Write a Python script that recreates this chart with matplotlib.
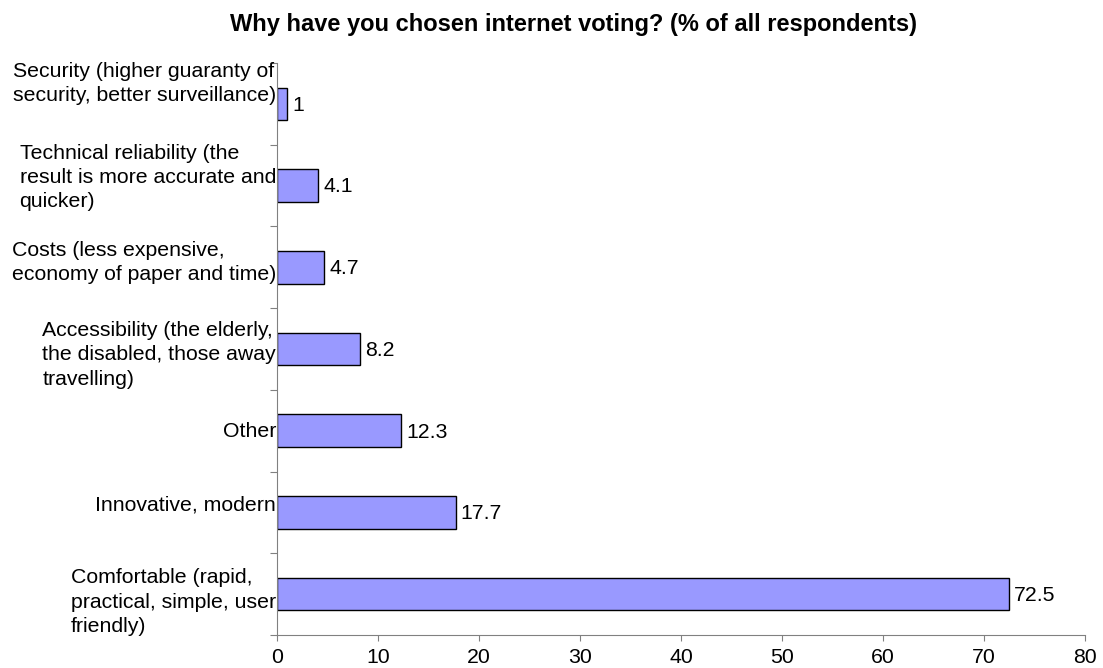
import matplotlib
matplotlib.use("Agg")
import matplotlib.pyplot as plt
import matplotlib.transforms as mtransforms
import numpy as np

plt.rcParams["font.family"] = ["Liberation Sans", "DejaVu Sans"]

# reasons, bottom to top
reasons = [
    "Comfortable (rapid,\npractical, simple, user\nfriendly)",
    "Innovative, modern",
    "Other",
    "Accessibility (the elderly,\nthe disabled, those away\ntravelling)",
    "Costs (less expensive,\neconomy of paper and time)",
    "Technical reliability (the\nresult is more accurate and\nquicker)",
    "Security (higher guaranty of\nsecurity, better surveillance)",
]
shares = [72.5, 17.7, 12.3, 8.2, 4.7, 4.1, 1]
value_labels = ["72.5", "17.7", "12.3", "8.2", "4.7", "4.1", "1"]
xticks = [0, 10, 20, 30, 40, 50, 60, 70, 80]
# vertical nudge of each category label, pixels (positive = up)
label_shift = [-8, 7, -1, -6, 5, 8, 20]

FS = 15.3
W, H = 1103, 668

fig = plt.figure(figsize=(W / 100, H / 100), dpi=100)
ax = fig.add_axes([277 / W, 1 - 635 / H, (1085 - 277) / W, (635 - 63) / H])

y = np.arange(len(reasons))
ax.barh(y, shares, height=0.40, color="#9999ff", edgecolor="black", linewidth=1)

for yi, v, lab in zip(y, shares, value_labels):
    ax.annotate(lab, (v, yi), xytext=(3.5, -1), textcoords="offset points",
                ha="left", va="center", fontsize=FS)

ax.set_xlim(0, 80)
ax.set_ylim(-0.5, len(reasons) - 0.5)
ax.set_xticks(xticks)
ax.set_xticklabels([str(t) for t in xticks], fontsize=FS)
ax.set_yticks(np.arange(-0.5, len(reasons)))
ax.set_yticklabels([])

# category labels drawn by hand so each one can be nudged
for yi, text, dy in zip(y, reasons, label_shift):
    tr = ax.get_yaxis_transform() + mtransforms.ScaledTranslation(
        -1 / 100, dy / 100, fig.dpi_scale_trans)
    ax.text(0, yi, text, transform=tr, ha="right", va="center",
            multialignment="left", linespacing=1.35, fontsize=FS)

ax.tick_params(axis="y", length=5, direction="out", color="#808080")
ax.tick_params(axis="x", length=4, direction="out", pad=5.5, color="#808080")

for side in ("top", "right"):
    ax.spines[side].set_visible(False)
ax.spines["left"].set_color("#808080")
ax.spines["bottom"].set_color("#808080")

fig.text(573 / W, 1 - 24 / H, "Why have you chosen internet voting? (% of all respondents)",
         ha="center", va="center", fontsize=17, fontweight="bold")

fig.savefig("out.png", dpi=100)
